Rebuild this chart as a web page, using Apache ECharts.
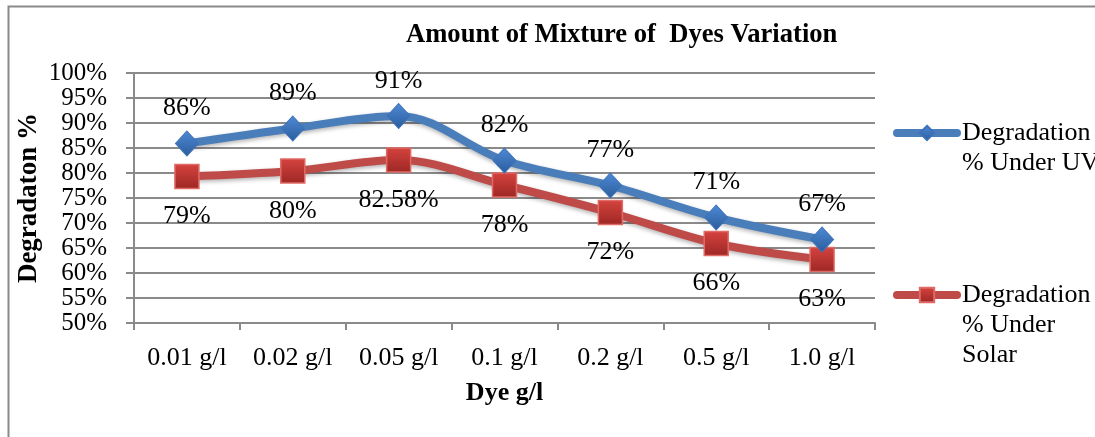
<!DOCTYPE html>
<html>
<head>
<meta charset="utf-8">
<script src="https://cdn.jsdelivr.net/npm/echarts@6/dist/echarts.min.js"></script>
<style>
html,body{margin:0;padding:0;background:#fff;}
#chart{width:1095px;height:437px;}
</style>
</head>
<body>
<div id="chart"></div>
<script>
const categories = ['0.01 g/l', '0.02 g/l', '0.05 g/l', '0.1 g/l', '0.2 g/l', '0.5 g/l', '1.0 g/l'];
const uvValues = [85.9, 88.9, 91.4, 82.5, 77.5, 71.1, 66.7];
const uvLabels = ['86%', '89%', '91%', '82%', '77%', '71%', '67%'];
const solarValues = [79.3, 80.4, 82.58, 77.6, 72.1, 65.9, 62.7];
const solarLabels = ['79%', '80%', '82.58%', '78%', '72%', '66%', '63%'];
const uvName = 'Degradation % Under UV';
const solarName = 'Degradation % Under Solar';

const FONT = '"Liberation Serif", "Times New Roman", serif';
const FS = 26;
const chart = echarts.init(document.getElementById('chart'), null, {renderer: 'canvas'});

const blueGrad = new echarts.graphic.LinearGradient(0, 0, 0, 1, [
  {offset: 0, color: '#4F8AD6'}, {offset: 1, color: '#2A5C9C'}]);
const redGrad = new echarts.graphic.LinearGradient(0, 0, 0, 1, [
  {offset: 0, color: '#D6433F'}, {offset: 1, color: '#9C2724'}]);

const option = {
  backgroundColor: '#fff',
  animation: false,
  graphic: [{
    type: 'rect', silent: true, z: -1,
    shape: {x: 8.5, y: 6.5, width: 1200, height: 600},
    style: {fill: 'none', stroke: '#8a8a8a', lineWidth: 2}
  }],
  title: {
    text: 'Amount of Mixture of  Dyes Variation',
    left: 401, top: 17,
    textStyle: {fontFamily: FONT, fontSize: 26.6, fontWeight: 'bold', color: '#000'}
  },
  grid: {left: 134, right: 220, top: 73, bottom: 114},
  legend: [{
    data: [uvName], orient: 'vertical', left: 893, top: 88, padding: 0,
    itemWidth: 60, itemHeight: 18,
    lineStyle: {width: 8, cap: 'round'},
    formatter: () => '\nDegradation\n% Under UV',
    textStyle: {fontFamily: FONT, fontSize: FS, color: '#000', lineHeight: 30}
  }, {
    data: [solarName], orient: 'vertical', left: 893, top: 220, padding: 0,
    itemWidth: 60, itemHeight: 18,
    lineStyle: {width: 8, cap: 'round'},
    formatter: () => '\n\nDegradation\n% Under\nSolar',
    textStyle: {fontFamily: FONT, fontSize: FS, color: '#000', lineHeight: 30}
  }],
  xAxis: {
    type: 'category', data: categories, boundaryGap: true,
    name: 'Dye g/l', nameLocation: 'middle', nameGap: 57,
    nameTextStyle: {fontFamily: FONT, fontSize: FS, fontWeight: 'bold', color: '#000'},
    axisLine: {lineStyle: {color: '#8a8a8a', width: 2}},
    axisTick: {show: true, length: 7, alignWithLabel: false, lineStyle: {color: '#8a8a8a', width: 2}},
    axisLabel: {fontFamily: FONT, fontSize: FS, color: '#000', margin: 22, interval: 0}
  },
  yAxis: {
    type: 'value', min: 50, max: 100, interval: 5,
    name: 'Degradaton %', nameLocation: 'middle', nameGap: 91, nameRotate: 90, nameMoveOverlap: false,
    nameTextStyle: {fontFamily: FONT, fontSize: 27, fontWeight: 'bold', color: '#000'},
    axisLine: {show: true, lineStyle: {color: '#8a8a8a', width: 2}},
    axisTick: {show: true, length: 8, lineStyle: {color: '#8a8a8a', width: 2}},
    axisLabel: {fontFamily: FONT, fontSize: 25, color: '#000', margin: 27, formatter: '{value}%',
      showMinLabel: true, showMaxLabel: true, hideOverlap: false},
    splitLine: {show: true, showMinLine: true, showMaxLine: true, lineStyle: {color: '#8a8a8a', width: 2}}
  },
  series: [{
    name: uvName, type: 'line', data: uvValues, smooth: 0.35,
    symbol: 'diamond', symbolSize: [23, 25],
    lineStyle: {color: '#4A7EBB', width: 8, shadowColor: 'rgba(0,0,0,0.3)', shadowBlur: 4, shadowOffsetY: 2},
    itemStyle: {color: blueGrad, borderColor: '#3D72B8', borderWidth: 1},
    label: {show: true, position: 'top', distance: 9, fontFamily: FONT, fontSize: FS, color: '#000',
      formatter: p => uvLabels[p.dataIndex]},
    z: 3
  }, {
    name: solarName, type: 'line', data: solarValues, smooth: 0.35,
    symbol: 'rect', symbolSize: 24,
    lineStyle: {color: '#BE4B48', width: 8, shadowColor: 'rgba(0,0,0,0.3)', shadowBlur: 4, shadowOffsetY: 2},
    itemStyle: {color: redGrad, borderColor: '#E06A66', borderWidth: 1.5},
    label: {show: true, position: 'bottom', distance: 14, fontFamily: FONT, fontSize: FS, color: '#000',
      formatter: p => solarLabels[p.dataIndex]},
    z: 2
  }]
};
chart.setOption(option);
</script>
</body>
</html>
